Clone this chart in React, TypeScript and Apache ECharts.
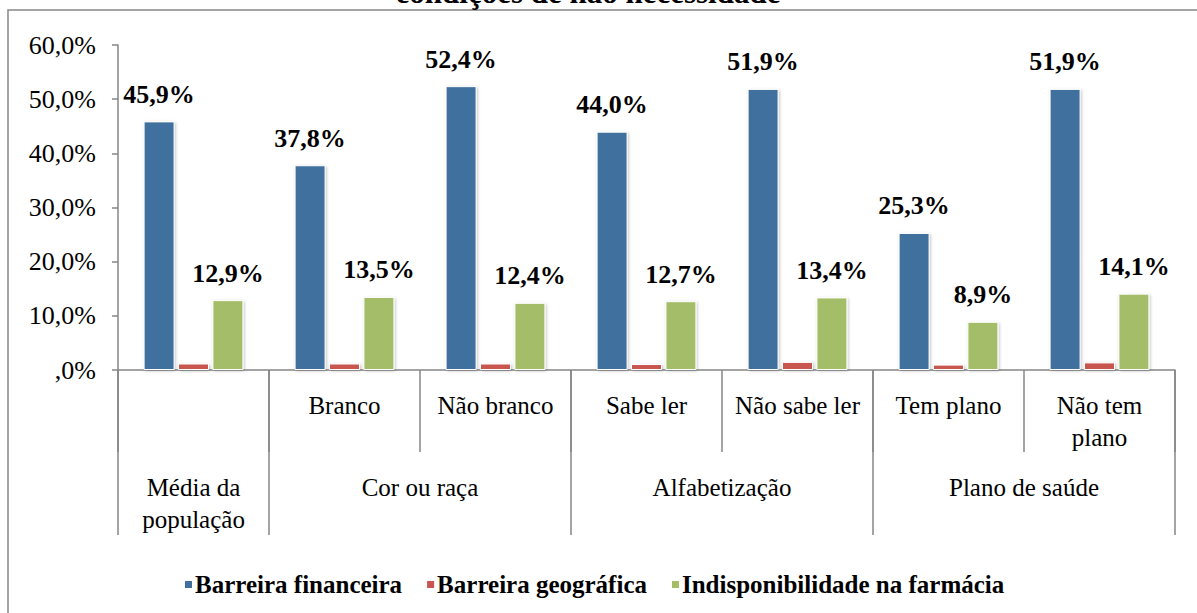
import React, { useEffect, useRef } from "react";
import * as echarts from "echarts";

const titleText = "condições de não necessidade";
const subCategories = ["", "Branco", "Não branco", "Sabe ler", "Não sabe ler", "Tem plano", "Não tem\nplano"];
const groupLabels = ["Média da\npopulação", "Cor ou raça", "Alfabetização", "Plano de saúde"];
const groupCenters = [0.5, 2, 4, 6];
const groupBounds = [0, 1, 3, 5, 7];
const seriesNames = ["Barreira financeira", "Barreira geográfica", "Indisponibilidade na farmácia"];
const financeira = [45.9, 37.8, 52.4, 44.0, 51.9, 25.3, 51.9];
const geografica = [1.2, 1.2, 1.2, 1.1, 1.5, 1.0, 1.4];
const farmacia = [12.9, 13.5, 12.4, 12.7, 13.4, 8.9, 14.1];
const yTicks = [0, 10, 20, 30, 40, 50, 60];

const FONT = "Liberation Serif";
const GRAY = "#868686";

const fmtPct = (v: number) => (v === 0 ? ",0%" : v.toFixed(1).replace(".", ",") + "%");

export default function App() {
  const ref = useRef<HTMLDivElement>(null);
  useEffect(() => {
    if (!ref.current) return;
    const chart = echarts.init(ref.current, null, { renderer: "svg" });
    const barStyle = (color: string) => ({
      color,
      borderColor: "#ffffff",
      borderWidth: 1,
      shadowColor: "rgba(0,0,0,0.25)",
      shadowBlur: 3,
      shadowOffsetX: 1,
      shadowOffsetY: 1,
    });
    const valueLabel = {
      show: true,
      position: "top",
      distance: 14,
      fontFamily: FONT,
      fontWeight: "bold",
      fontSize: 26,
      color: "#000",
      formatter: (p: any) => fmtPct(p.value),
    };
    chart.setOption({
      animation: false,
      backgroundColor: "#ffffff",
      textStyle: { fontFamily: FONT },
      graphic: [
        {
          type: "rect",
          shape: { x: 8, y: 10, width: 1250, height: 700 },
          style: { fill: "none", stroke: GRAY, lineWidth: 1.5 },
          silent: true,
        },
        {
          type: "text",
          x: 588,
          y: 8,
          style: {
            text: titleText,
            fontFamily: FONT,
            fontWeight: "bold",
            fontSize: 31,
            fill: "#000",
            textAlign: "center",
            textVerticalAlign: "bottom",
          },
        },
      ],
      legend: {
        data: seriesNames,
        left: 178,
        top: 567,
        icon: "rect",
        itemWidth: 9,
        itemHeight: 9,
        itemGap: 23,
        textStyle: { fontFamily: FONT, fontWeight: "bold", fontSize: 25, color: "#000", padding: [0, 0, 0, -3] },
      },
      grid: { left: 118, right: 22, top: 45, bottom: 243, containLabel: false },
      xAxis: [
        {
          type: "category",
          data: subCategories,
          position: "bottom",
          axisLine: { show: true, lineStyle: { color: GRAY, width: 1.5 } },
          axisTick: { show: true, interval: 0, length: 82, lineStyle: { color: GRAY, width: 1.5 } },
          axisLabel: {
            interval: 0,
            margin: 19,
            fontFamily: FONT,
            fontSize: 25,
            lineHeight: 32,
            color: "#000",
          },
        },
        {
          type: "value",
          min: 0,
          max: 7,
          position: "bottom",
          splitLine: { show: false },
          axisLine: { show: false },
          axisTick: {
            show: true,
            customValues: groupBounds,
            length: 165,
            lineStyle: { color: GRAY, width: 1.5 },
          },
          axisLabel: {
            customValues: groupCenters,
            margin: 101,
            fontFamily: FONT,
            fontSize: 25,
            lineHeight: 32,
            color: "#000",
            formatter: (v: number) => {
              const i = groupCenters.indexOf(v);
              return i >= 0 ? groupLabels[i] : "";
            },
          },
        },
      ],
      yAxis: {
        type: "value",
        min: 0,
        max: 60,
        interval: 10,
        splitLine: { show: false },
        axisLine: { show: true, lineStyle: { color: GRAY, width: 1.5 } },
        axisTick: { show: true, length: 6, lineStyle: { color: GRAY, width: 1.5 } },
        axisLabel: {
          margin: 22,
          fontFamily: FONT,
          fontSize: 26,
          color: "#000",
          formatter: (v: number) => fmtPct(v),
          customValues: yTicks,
        },
      },
      series: [
        {
          name: seriesNames[0],
          type: "bar",
          data: financeira,
          barWidth: 31,
          barGap: "11%",
          itemStyle: barStyle("#416F9E"),
          label: valueLabel,
        },
        {
          name: seriesNames[1],
          type: "bar",
          data: geografica,
          barWidth: 31,
          barGap: "11%",
          itemStyle: barStyle("#C9544F"),
        },
        {
          name: seriesNames[2],
          type: "bar",
          data: farmacia,
          barWidth: 31,
          barGap: "11%",
          itemStyle: barStyle("#A4BD67"),
          label: valueLabel,
        },
      ],
    });
    return () => chart.dispose();
  }, []);
  return (
    <div
      ref={ref}
      style={{ position: "absolute", left: 0, top: 0, width: 1197, height: 613, background: "#fff" }}
    />
  );
}
